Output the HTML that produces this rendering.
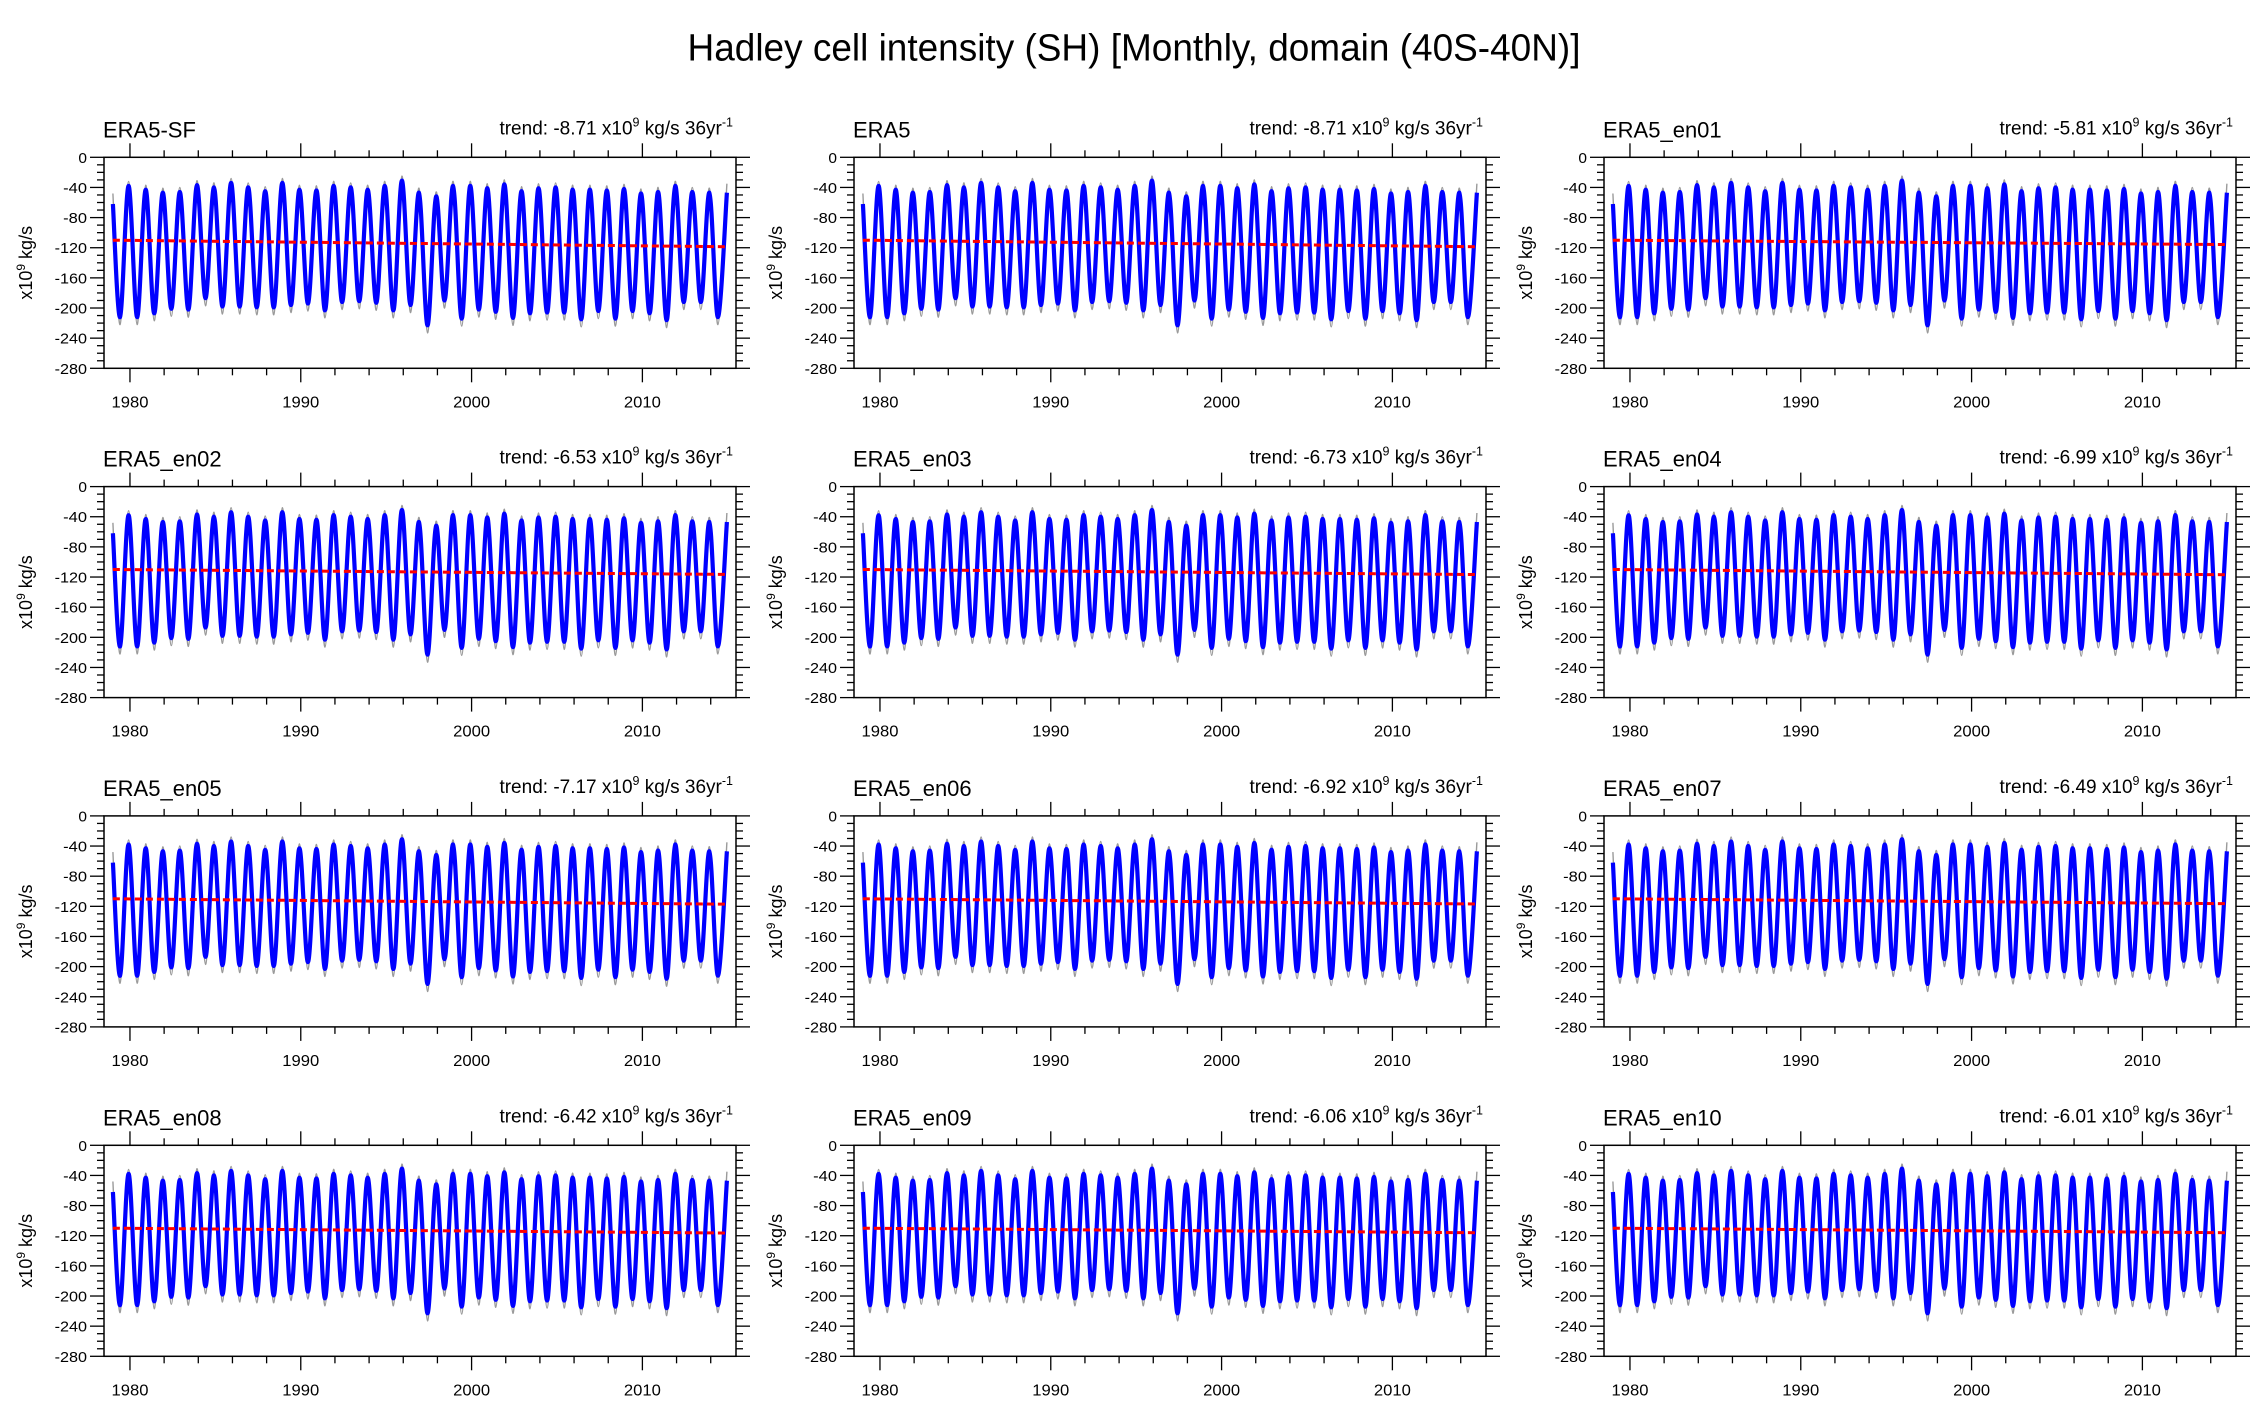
<!DOCTYPE html>
<html><head><meta charset="utf-8"><style>
html,body{margin:0;padding:0;background:#fff;}
svg{display:block;font-family:"Liberation Sans",sans-serif;}
</style></head><body>
<svg id="fig" width="2267" height="1426" viewBox="0 0 2267 1426" xmlns="http://www.w3.org/2000/svg">
<rect width="2267" height="1426" fill="#fff"/>
<text x="1134" y="60.5" font-size="38" text-anchor="middle" textLength="893" lengthAdjust="spacingAndGlyphs">Hadley cell intensity (SH) [Monthly, domain (40S-40N)]</text>
</svg>
<script>
const panelNames = ["ERA5-SF","ERA5","ERA5_en01","ERA5_en02","ERA5_en03","ERA5_en04","ERA5_en05","ERA5_en06","ERA5_en07","ERA5_en08","ERA5_en09","ERA5_en10"];
const trends = [-8.71,-8.71,-5.81,-6.53,-6.73,-6.99,-7.17,-6.92,-6.49,-6.42,-6.06,-6.01];
const trendStart = -110;
const years = [1979,1980,1981,1982,1983,1984,1985,1986,1987,1988,1989,1990,1991,1992,1993,1994,1995,1996,1997,1998,1999,2000,2001,2002,2003,2004,2005,2006,2007,2008,2009,2010,2011,2012,2013,2014];
const peaks = [-38,-43,-47,-46,-37,-40,-34,-40,-45,-34,-43,-44,-38,-40,-43,-38,-31,-47,-52,-38,-38,-41,-36,-45,-41,-40,-43,-43,-44,-42,-48,-46,-38,-46,-47];
const troughs = [-212,-212,-207,-201,-202,-187,-198,-198,-199,-199,-196,-194,-203,-192,-191,-193,-203,-196,-223,-190,-214,-202,-205,-213,-207,-206,-206,-215,-204,-214,-204,-207,-216,-192,-192,-212];
const startValue = -62;
const endValue = -47;
const yTicks = [0,-40,-80,-120,-160,-200,-240,-280];
const xTicks = [1980,1990,2000,2010];

const NS = "http://www.w3.org/2000/svg";
const svg = document.getElementById("fig");
const colX = [104, 854, 1604], rowY = [157.3, 486.6, 815.9, 1145.3];
const W = 632, H = 211, X0 = 1978.48, X1 = 2015.48, Y0 = 0, Y1 = -280;
function mk(tag, attrs, parent){const e=document.createElementNS(NS,tag);for(const k in attrs)e.setAttribute(k,attrs[k]);(parent||svg).appendChild(e);return e;}
function smooth(pts){let d="M"+pts[0][0].toFixed(1)+","+pts[0][1].toFixed(1);
  for(let i=0;i<pts.length-1;i++){const p0=pts[Math.max(0,i-1)],p1=pts[i],p2=pts[i+1],p3=pts[Math.min(pts.length-1,i+2)];
    const c1=[p1[0]+(p2[0]-p0[0])/6,p1[1]+(p2[1]-p0[1])/6],c2=[p2[0]-(p3[0]-p1[0])/6,p2[1]-(p3[1]-p1[1])/6];
    d+="C"+c1[0].toFixed(1)+","+c1[1].toFixed(1)+" "+c2[0].toFixed(1)+","+c2[1].toFixed(1)+" "+p2[0].toFixed(1)+","+p2[1].toFixed(1);}
  return d;}

panelNames.forEach((name,pi)=>{
  const ox=colX[pi%3], oy=rowY[Math.floor(pi/3)];
  const sx=t=>ox+(t-X0)/(X1-X0)*W, sy=v=>oy+(v-Y0)/(Y1-Y0)*H;
  const g=mk("g",{});
  
  
  const t=mk("text",{x:ox-1,y:oy-20,"font-size":22},g);
  
  
  t.textContent=name;
  const tr=mk("text",{x:ox+W-3,y:oy-23,"font-size":19,"text-anchor":"end"},g);
  
  
  tr.innerHTML='trend: '+trends[pi].toFixed(2)+' x10<tspan dy="-8" font-size="12.5">9</tspan><tspan dy="8"> kg/s 36yr</tspan><tspan dy="-8" font-size="12.5">-1</tspan>';
  const pts=[[sx(1979.0),sy(startValue)]];
  const gpts=[[sx(1979.0),sy(startValue+14)]];
  years.forEach((y,i)=>{
    pts.push([sx(y+0.42),sy(troughs[i])]); gpts.push([sx(y+0.42),sy(troughs[i]-10)]);
    if(i<peaks.length){pts.push([sx(y+0.92),sy(peaks[i])]); gpts.push([sx(y+0.92),sy(peaks[i]+6)]);}
  });
  pts.push([sx(2014.95),sy(endValue)]); gpts.push([sx(2014.95),sy(endValue+12)]);
  const gl=mk("path",{d:smooth(gpts),fill:"none",stroke:"#9a9a9a","stroke-width":1.4},g);
  
  
  const bl=mk("path",{d:smooth(pts),fill:"none",stroke:"#0000ff","stroke-width":4.2,"stroke-linejoin":"round"},g);
  
  
  const rl=mk("line",{x1:sx(1979),y1:sy(trendStart),x2:sx(2015),y2:sy(trendStart+trends[pi]),stroke:"#ff0000","stroke-width":3,"stroke-dasharray":"7 4"},g);
  
  
  const fr=mk("rect",{x:ox,y:oy,width:W,height:H,fill:"none",stroke:"#000","stroke-width":1.5},g);
  
  
  for(let v=0;v>=-280;v-=10){const maj=v%40===0, L=maj?14:7, y=sy(v);
    mk("line",{x1:ox-L,y1:y,x2:ox,y2:y,stroke:"#000","stroke-width":1.3},g);
    mk("line",{x1:ox+W,y1:y,x2:ox+W+L,y2:y,stroke:"#000","stroke-width":1.3},g);}
  yTicks.forEach(v=>{const s=String(v);
    const l=mk("text",{x:ox-17,y:sy(v)+5.5,"font-size":15,"text-anchor":"end",textLength:(s.length*8.6+(v<0?-2:0)).toFixed(1),lengthAdjust:"spacingAndGlyphs"},g);
    
    
    l.textContent=s;});
  for(let yr=1980;yr<=2014;yr+=2){const maj=yr%10===0, L=maj?14:7, x=sx(yr);
    mk("line",{x1:x,y1:oy-L,x2:x,y2:oy,stroke:"#000","stroke-width":1.3},g);
    mk("line",{x1:x,y1:oy+H,x2:x,y2:oy+H+L,stroke:"#000","stroke-width":1.3},g);}
  xTicks.forEach(yr=>{
    const l=mk("text",{x:sx(yr),y:oy+H+39,"font-size":15.5,"text-anchor":"middle",textLength:37,lengthAdjust:"spacingAndGlyphs"},g);
    
    
    l.textContent=String(yr);});
  const yl=mk("text",{x:0,y:0,"font-size":18,"text-anchor":"middle",transform:"translate("+(ox-72)+","+(oy+H/2)+") rotate(-90)"},g);
  
  
  yl.innerHTML='x10<tspan dy="-7" font-size="12">9</tspan><tspan dy="7"> kg/s</tspan>';
});
</script>
</body></html>
